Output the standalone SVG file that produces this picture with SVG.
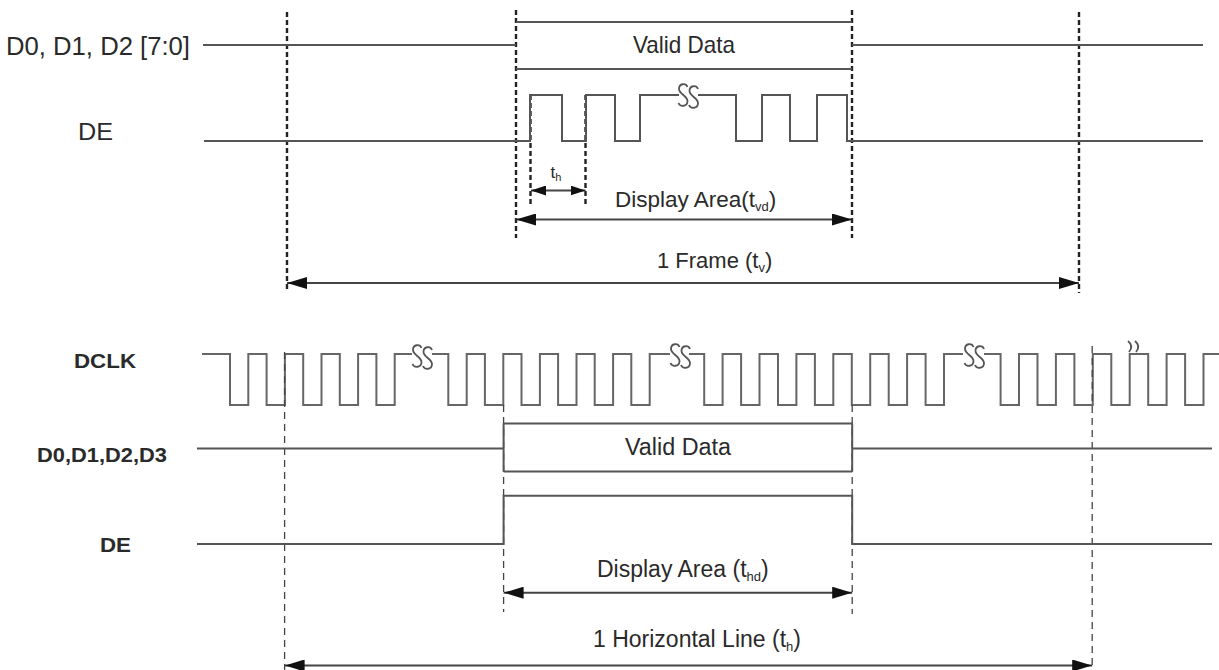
<svg xmlns="http://www.w3.org/2000/svg" width="1219" height="670" viewBox="0 0 1219 670">
<style>
.bg{fill:#ffffff}
.w{fill:none;stroke:#555;stroke-width:2}
.ck{fill:none;stroke:#666;stroke-width:2}
.ss{fill:none;stroke:#555;stroke-width:1.8}
.dt{fill:none;stroke:#222;stroke-width:2.4;stroke-dasharray:5 3}
.db{fill:none;stroke:#444;stroke-width:1.3;stroke-dasharray:7 5}
.ar{fill:none;stroke:#444;stroke-width:2}
.t{font-family:"Liberation Sans",Arial,sans-serif;fill:#2a2a2a}
.b{font-weight:bold}
</style>
<defs>
<marker id="ah" viewBox="0 0 20 12" refX="20" refY="6" markerWidth="20" markerHeight="12" markerUnits="userSpaceOnUse" orient="auto-start-reverse">
<path d="M0,0 L20,6 L0,12 z" fill="#111"/>
</marker>
<marker id="ahs" viewBox="0 0 15 10" refX="15" refY="5" markerWidth="15" markerHeight="10" markerUnits="userSpaceOnUse" orient="auto-start-reverse">
<path d="M0,0 L15,5 L0,10 z" fill="#111"/>
</marker>
</defs>
<rect class="bg" x="0" y="0" width="1219" height="670"/>

<!-- top: vertical timing references -->
<g id="guides-top">
<path class="dt" d="M287 12 V290 M1079 12 V293 M516 10 V238 M852 10 V238 M530.5 95 V205 M585.5 95 V205"/>
</g>

<g id="top-data">
<path class="w" d="M203 45 H516 M516 22 H852 M516 69 H852 M852 45 H1203"/>
<text class="t" x="6" y="55" font-size="26" textLength="184" lengthAdjust="spacingAndGlyphs">D0, D1, D2 [7:0]</text>
<text class="t" x="633" y="53" font-size="24" textLength="102" lengthAdjust="spacingAndGlyphs">Valid Data</text>
</g>

<g id="top-de">
<path class="w" d="M204 141 H530 V95 H562 V141 H586 V95 H615 V141 H640 V95 H679 M698 95 H736 V141 H762 V95 H790 V141 H817 V95 H847 V141 H1203"/>
<path class="ss" d="M687.5,87 C686,83 679,83 679,89 C679,94 687.5,96 687.5,101 C687.5,107 680,107 678.5,103 M698,89 C696.5,85 689.5,85 689.5,91 C689.5,96 698,98 698,103 C698,109 690.5,109 689,105"/>
<text class="t" x="78" y="140" font-size="23" textLength="35" lengthAdjust="spacingAndGlyphs">DE</text>
</g>

<g id="bottom-clk">
<path class="ck" d="M202 354 H230 V405 H248.3 V354 H266.6 V405 H284.9 V354 H303.2 V405 H321.5 V354 H339.8 V405 H358.1 V354 H376.4 V405 H394.7 V354 H412 M432 354 H448.3 V405 H466.7 V354 H484.9 V405 H503.3 V354 H521.5 V405 H539.9 V354 H558.1 V405 H576.5 V354 H594.7 V405 H613.1 V354 H631.3 V405 H649.7 V354 H670 M689 354 H704.2 V405 H722.6 V354 H741.1 V405 H759.5 V354 H778 V405 H796.4 V354 H814.9 V405 H833.3 V354 H851.8 V405 H870.2 V354 H888.7 V405 H907.1 V354 H925.6 V405 H944 V354 H963 M984 354 H1000.6 V405 H1019 V354 H1037.5 V405 H1055.9 V354 H1074.4 V405 H1092.8 V354 H1111.3 V405 H1129.7 V354 H1148.2 V405 H1166.6 V354 H1185.1 V405 H1203.5 V354 H1219"/>
<path class="ss" d="M421.5,348 C420,344 413,344 413,350 C413,355 421.5,357 421.5,362 C421.5,368 414,368 412.5,364 M432,350 C430.5,346 423.5,346 423.5,352 C423.5,357 432,359 432,364 C432,370 424.5,370 423,366"/>
<path class="ss" d="M679.5,347 C678,343 671,343 671,349 C671,354 679.5,356 679.5,361 C679.5,367 672,367 670.5,363 M690,349 C688.5,345 681.5,345 681.5,351 C681.5,356 690,358 690,363 C690,369 682.5,369 681,365"/>
<path class="ss" d="M973.5,347 C972,343 965,343 965,349 C965,354 973.5,356 973.5,361 C973.5,367 966,367 964.5,363 M984,349 C982.5,345 975.5,345 975.5,351 C975.5,356 984,358 984,363 C984,369 976.5,369 975,365"/>
<path class="ss" d="M1128,341 Q1134,346 1129,352 M1135,341 Q1141,346 1136,352"/>
<text class="t b" x="74" y="368" font-size="21" textLength="62" lengthAdjust="spacingAndGlyphs">DCLK</text>
</g>

<g id="guides-bottom">
<path class="db" d="M284.6 352 V670 M1092.2 346 V670 M503.6 405 V612 M852.2 405 V614"/>
</g>

<g id="bottom-data">
<path class="w" d="M197 448.5 H503.6 M503.6 423.5 V471.5 M503.6 423.5 H852.2 M503.6 471.5 H852.2 M852.2 423.5 V471.5 M852.2 448.5 H1212"/>
<text class="t b" x="37" y="461.5" font-size="21" textLength="130" lengthAdjust="spacingAndGlyphs">D0,D1,D2,D3</text>
<text class="t" x="625" y="455" font-size="23" textLength="106" lengthAdjust="spacingAndGlyphs">Valid Data</text>
</g>

<g id="bottom-de">
<path class="w" d="M197 544 H503.6 V495.7 H852.2 V544 H1212"/>
<text class="t b" x="100" y="551.5" font-size="21" textLength="31" lengthAdjust="spacingAndGlyphs">DE</text>
</g>

<g id="connectors">
<line class="ar" x1="531" y1="190.5" x2="585.5" y2="190.5" marker-start="url(#ahs)" marker-end="url(#ahs)"/>
<line class="ar" x1="516" y1="219.5" x2="852" y2="219.5" marker-start="url(#ah)" marker-end="url(#ah)"/>
<line class="ar" x1="287" y1="283" x2="1079" y2="283" marker-start="url(#ah)" marker-end="url(#ah)"/>
<line class="ar" x1="503.6" y1="592.7" x2="852.2" y2="592.7" marker-start="url(#ah)" marker-end="url(#ah)"/>
<line class="ar" x1="284.6" y1="665.5" x2="1092.2" y2="665.5" marker-start="url(#ah)" marker-end="url(#ah)"/>
<text class="t" x="550.5" y="178" font-size="17">t<tspan font-size="11" dy="3">h</tspan></text>
<text class="t" x="615" y="206.5" font-size="22.5">Display Area(t<tspan font-size="13" dy="4">vd</tspan><tspan dy="-4">)</tspan></text>
<text class="t" x="657" y="268" font-size="22">1 Frame (t<tspan font-size="13" dy="4">v</tspan><tspan dy="-4">)</tspan></text>
<text class="t" x="597" y="576.5" font-size="23">Display Area (t<tspan font-size="13" dy="4">hd</tspan><tspan dy="-4">)</tspan></text>
<text class="t" x="593" y="646.5" font-size="23">1 Horizontal Line (t<tspan font-size="13" dy="4">h</tspan><tspan dy="-4">)</tspan></text>
</g>
</svg>
